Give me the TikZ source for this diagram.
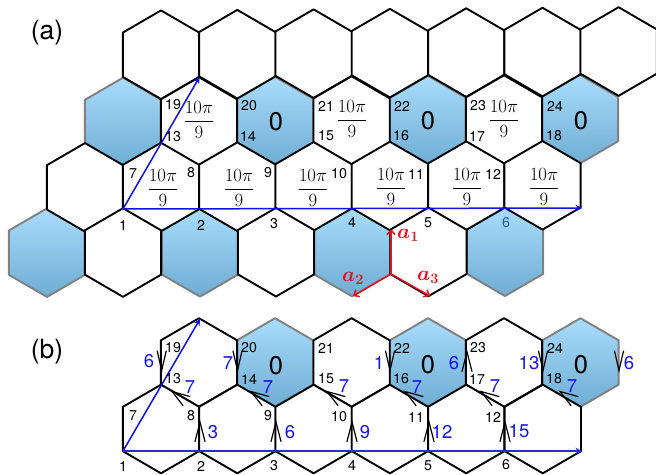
\documentclass[tikz,border=0pt]{standalone}
\usepackage[no-math]{fontspec}
\usepackage{amsmath}
\setmainfont{TeX Gyre Heros}
\definecolor{hextop}{HTML}{A8DCFC}
\definecolor{hexbot}{HTML}{6FADD3}
\definecolor{arrowblue}{HTML}{1010E8}
\definecolor{barblue}{HTML}{2A2AD8}
\definecolor{labelblue}{HTML}{1414F0}
\definecolor{sixblue}{HTML}{1F5F8F}
\definecolor{vecred}{HTML}{E8101C}
\usetikzlibrary{arrows.meta}
\tikzset{
  whitehex/.style={draw=black,line width=1.9pt,line join=round,fill=white},
  bluehex/.style={draw=black!50,line width=1.9pt,line join=round,top color=hextop,bottom color=hexbot},
  sitelabel/.style={inner sep=0pt,font=\fontsize{14.2}{15}\selectfont},
  zerolabel/.style={inner sep=0pt,font=\fontsize{25.5}{27}\selectfont},
  panellabel/.style={inner sep=0pt,font=\fontsize{26.5}{28}\selectfont},
  fluxlabel/.style={inner sep=0pt,font=\fontsize{17.28}{20}\selectfont},
  bluenum/.style={inner sep=0pt,text=labelblue,font=\fontsize{18.5}{20}\selectfont},
  vecname/.style={inner sep=0pt,text=vecred,font=\fontsize{20.74}{24}\selectfont},
  bluevec/.style={draw=arrowblue,line width=1.5pt,-{Stealth[length=6.5pt,width=6.5pt]}},
  redvec/.style={draw=vecred,line width=1.5pt,-{Straight Barb[length=4.5pt,width=8pt]}},
  stick/.style={draw=black,line width=1.2pt,line cap=round,line join=miter}
}
\newcommand{\hexa}[4]{%
  \pgfmathsetmacro{\yc}{#2+#3*(#1-123)}%
  \path[#4] (#1,\yc) ++(0,-44.3) -- ++(38.15,22.15) -- ++(0,44.3) -- ++(-38.15,22.15) -- ++(-38.15,-22.15) -- ++(0,-44.3) -- cycle;}
\newcommand{\upstick}[2]{\draw[stick] (#1-5,#2+19.5) -- (#1,#2) -- (#1+5,#2+19.5);}
\newcommand{\downstick}[2]{\draw[stick] (#1-4.5,#2-19.5) -- (#1,#2) -- (#1+4.5,#2-19.5);}
\newcommand{\slantstick}[2]{\draw[stick] (#1+18,#2+5) -- (#1,#2) -- (#1+11,#2+14);}
\begin{document}
\begin{tikzpicture}[x=1pt,y=-1pt]
\useasboundingbox (0,0) rectangle (656,474);
% ---------- panel (a)
\foreach \c/\r/\s in {123/122/-0.0063,275/122/-0.0063,428/122/-0.0063,580/122/-0.0063,47/252.5/-0.002,200/252.5/-0.002,352/252.5/-0.002,505/252.5/-0.002}
  {\hexa{\c}{\r}{\s}{bluehex}}
\foreach \c in {161,237.3,313.6,389.9,466.2,542.5,618.6} {\hexa{\c}{55}{-0.007}{whitehex}}
\foreach \c in {199,351.6,504} {\hexa{\c}{122}{-0.0063}{whitehex}}
\foreach \c in {85,161,237.3,313.6,389.9,466.2,542.5} {\hexa{\c}{187.2}{-0.0045}{whitehex}}
\foreach \c in {123,276,428.4} {\hexa{\c}{252.5}{-0.002}{whitehex}}
\node[panellabel] (pa) at (47,33) {(a)};
\coordinate (aO) at (123,209);
\coordinate (aU) at (199.5,77);
\coordinate (aV) at (582,208);
\draw[bluevec] (aO) -- (aU);
\draw[bluevec] (aO) -- (aV);
\foreach \n/\t/\x/\y in {a19/19/173/105,a13/13/173/137,a20/20/249/106,a14/14/248/136,a21/21/326/106,a15/15/326/136,a22/22/402/106,a16/16/401/136,a23/23/478/106,a17/17/477/136,a24/24/555/106,a18/18/554/136,a7/7/133/174,a8/8/191/173,a9/9/268/173,a10/10/339/174,a11/11/416/174,a12/12/493/174,a1/1/123/225,a2/2/201/225,a3/3/274/224,a4/4/352/222,a5/5/428/223}
  {\node[sitelabel] (\n) at (\x,\y) {\t};}
\node[sitelabel,text=sixblue] (a6) at (506,223) {6};
\foreach \n/\x/\y in {az1/276/122,az2/428/121,az3/581/121} {\node[zerolabel] (\n) at (\x,\y) {0};}
\foreach \n/\x/\y in {f1/199/120,f2/352/119,f3/504/119,f4/163/188,f5/239/188,f6/313/188,f7/391/187,f8/467/187,f9/544/187}
  {\node[fluxlabel] (\n) at (\x,\y) {\scalebox{1.08}{$\dfrac{10\pi}{9}$}};}
% red vectors
\coordinate (rO) at (391,274);
\coordinate (rA) at (391,229);
\coordinate (rB) at (353,296);
\coordinate (rC) at (430,296);
\draw[redvec] (rO) -- (rA);
\draw[redvec] (rO) -- (rB);
\draw[redvec] (rO) -- (rC);
\node[vecname] (va1) at (408,235) {$\boldsymbol{a}_{\mathbf{1}}$};
\node[vecname] (va2) at (353,278) {$\boldsymbol{a}_{\mathbf{2}}$};
\node[vecname] (va3) at (428,277) {$\boldsymbol{a}_{\mathbf{3}}$};
% ---------- panel (b)
\foreach \c in {275,428,580.5} {\hexa{\c}{362.5}{0}{bluehex}}
\foreach \c in {199,351.6,504} {\hexa{\c}{362.5}{0}{whitehex}}
\foreach \c in {161,237.3,313.6,389.9,466.2,542.8} {\hexa{\c}{429}{0}{whitehex}}
\node[panellabel] (pb) at (47,352) {(b)};
\coordinate (bO) at (123,451);
\coordinate (bU) at (200,319);
\coordinate (bV) at (582,451);
\draw[bluevec] (bO) -- (bU);
\draw[draw=barblue,line width=2pt,-{Stealth[length=6.5pt,width=6.5pt]}] (bO) -- (bV);
\foreach \x in {200,276,352,429,505} {\upstick{\x}{422}}
\upstick{467}{352}
\foreach \x in {161.7,237.5,390,543,619} {\downstick{\x}{370.5}}
\foreach \x in {172,251,327,405,481,560} {\slantstick{\x}{391.5}}
\foreach \n/\t/\x/\y in {b19/19/173/348,b13/13/173/379,b20/20/249/348,b14/14/249/379,b21/21/326/348,b15/15/326/379,b22/22/402/348,b16/16/401/379,b23/23/478/348,b17/17/477/379,b24/24/555/348,b18/18/554/379,b7/7/133/416,b8/8/191/416,b9/9/268/416,b10/10/339/417,b11/11/416/417,b12/12/493/417,b1/1/123/466,b2/2/201/466,b3/3/274/466,b4/4/352/465,b5/5/428/466,b6/6/506/465}
  {\node[sitelabel] (\n) at (\x,\y) {\t};}
\foreach \n/\x/\y in {bz1/276/366,bz2/428/365,bz3/581/365} {\node[zerolabel] (\n) at (\x,\y) {0};}
\foreach \n/\t/\x/\y in {n1/6/149/361,n2/7/190/387,n3/3/213/432,n4/7/228/363,n5/7/268/387,n6/6/290/432,n7/9/365/432,n8/7/344/386,n9/1/379/363,n10/7/417/387,n11/12/442/432,n12/6/454/363,n13/7/495/386,n14/15/519/431,n15/13/529/363,n16/7/572/386,n17/6/629/363}
  {\node[bluenum] (\n) at (\x,\y) {\t};}
\end{tikzpicture}
\end{document}
